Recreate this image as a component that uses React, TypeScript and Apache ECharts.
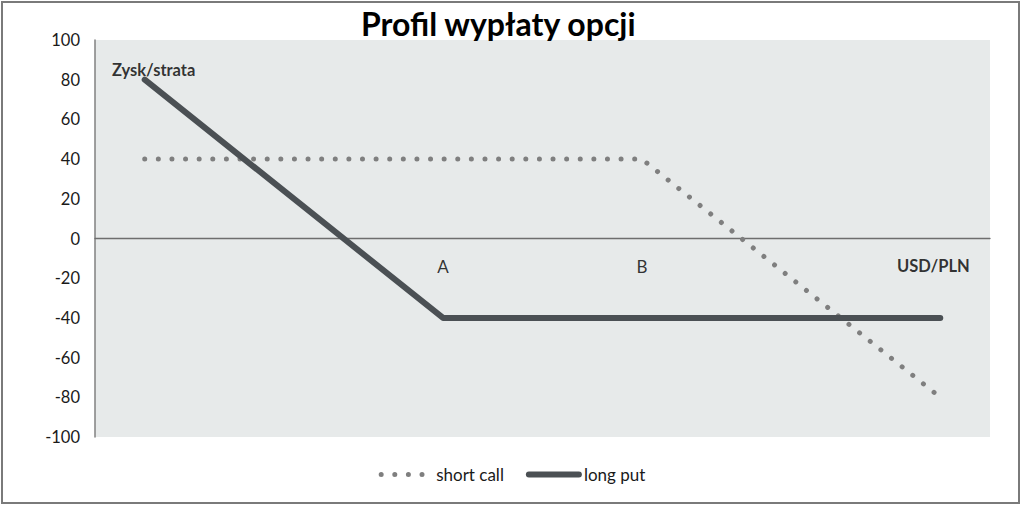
import { useEffect, useRef } from 'react'
import * as echarts from 'echarts'

// Payoff profile of two option positions (PLN per USD/PLN move).
const TITLE = 'Profil wypłaty opcji'
const Y_TICKS_MIN = -100
const Y_TICKS_MAX = 100
const Y_STEP = 20
const X_MAX = 18

const shortCallX = [1, 11, 17]
const shortCallY = [40, 40, -80]
const longPutX = [1, 7, 17]
const longPutY = [80, -40, -40]

// annotation texts placed in data coordinates: [x, y, text, bold]
const notes: [number, number, string, boolean][] = [
  [1.18, 85, 'Zysk/strata', true],
  [7, -14, 'A', false],
  [11, -14, 'B', false],
  [16.86, -14, 'USD/PLN', true],
]

const FONT = "Lato, 'Open Sans', 'Noto Sans', sans-serif"
const INK = '#1a1a1a'
const DARK = '#4b5054'
const DOT = '#7f7f7f'
const DOT_STYLE = { color: DOT, width: 5, type: [0.01, 13.6], cap: 'round', join: 'round' }
const SOLID_STYLE = { color: DARK, width: 6, cap: 'round', join: 'round' }

function buildOption(): echarts.EChartsOption {
  const pair = (xs: number[], ys: number[]) => xs.map((x, i) => [x, ys[i]])
  return {
    animation: false,
    textStyle: { fontFamily: FONT, color: INK },
    title: {
      text: TITLE,
      left: 356,
      top: 2,
      textStyle: { fontSize: 32, fontWeight: 'bold', color: '#000', fontFamily: FONT },
    },
    grid: {
      left: 95,
      right: 34,
      top: 40,
      bottom: 71,
      show: true,
      backgroundColor: '#e7eaea',
      borderWidth: 0,
    },
    legend: {
      bottom: 20,
      left: 'center',
      itemWidth: 50,
      itemHeight: 8,
      itemGap: 22,
      textStyle: { fontSize: 17, color: INK, fontFamily: FONT },
      itemStyle: { opacity: 0 },
      data: [
        { name: 'short call', lineStyle: DOT_STYLE as any, itemStyle: { opacity: 0 } },
        { name: 'long put', lineStyle: SOLID_STYLE as any, itemStyle: { opacity: 0 } },
      ],
    },
    xAxis: {
      type: 'value',
      min: 0,
      max: X_MAX,
      axisLine: { onZero: true, lineStyle: { color: '#6e6e6e', width: 1.3 } },
      axisTick: { show: false },
      axisLabel: { show: false },
      splitLine: { show: false },
    },
    yAxis: {
      type: 'value',
      min: Y_TICKS_MIN,
      max: Y_TICKS_MAX,
      interval: Y_STEP,
      axisLine: { show: true, onZero: false, lineStyle: { color: '#808080', width: 1.5 } },
      axisTick: { show: false },
      splitLine: { show: false },
      axisLabel: { fontSize: 16.5, color: INK, margin: 15, fontFamily: FONT },
    },
    series: [
      {
        name: 'short call',
        type: 'line',
        data: pair(shortCallX, shortCallY),
        symbol: 'none',
        color: DOT,
        lineStyle: DOT_STYLE as any,
        z: 2,
      },
      {
        name: 'long put',
        type: 'line',
        data: pair(longPutX, longPutY),
        symbol: 'none',
        color: DARK,
        lineStyle: SOLID_STYLE as any,
        z: 3,
      },
      {
        name: 'notes',
        type: 'scatter',
        symbolSize: 0,
        silent: true,
        data: notes.map(([x, y, text, bold]) => ({
          value: [x, y],
          label: {
            show: true,
            position: 'inside',
            formatter: text,
            fontSize: bold ? 16.5 : 17,
            fontWeight: bold ? 'bold' : 'normal',
            color: '#000',
            fontFamily: FONT,
          },
        })),
        z: 4,
      },
    ],
  }
}

export default function App() {
  const ref = useRef<HTMLDivElement>(null)

  useEffect(() => {
    const el = ref.current
    if (!el) return
    const chart = echarts.init(el, undefined, { renderer: 'svg' })
    chart.setOption(buildOption())
    return () => chart.dispose()
  }, [])

  return (
    <div
      style={{
        position: 'fixed',
        left: 0,
        top: 0,
        width: 1024,
        height: 508,
        background: '#fff',
      }}
    >
      <div
        style={{
          position: 'absolute',
          left: 1,
          top: 1,
          width: 1019,
          height: 503,
          border: '2px solid #7a7a7a',
          boxSizing: 'border-box',
          pointerEvents: 'none',
          zIndex: 2,
        }}
      />
      <div ref={ref} style={{ width: 1024, height: 508 }} />
    </div>
  )
}
